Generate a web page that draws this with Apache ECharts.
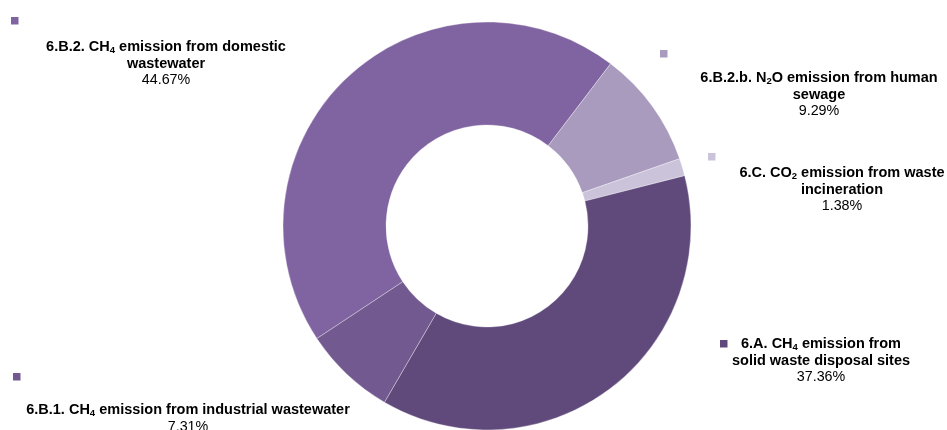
<!DOCTYPE html>
<html>
<head>
<meta charset="utf-8">
<script src="https://cdn.jsdelivr.net/npm/echarts@6/dist/echarts.min.js"></script>
<style>html,body{margin:0;padding:0;background:#fff}#c{width:947px;height:430px}</style>
</head>
<body>
<div id="c"></div>
<script>
// Category label lines (subscripts marked with _n)
const categories = [
  "6.B.2. CH_4 emission from domestic\nwastewater",
  "6.B.2.b. N_2O emission from human\nsewage",
  "6.C. CO_2 emission from waste\nincineration",
  "6.A. CH_4 emission from\nsolid waste disposal sites",
  "6.B.1. CH_4 emission from industrial wastewater"
];
const shares = [44.67, 9.29, 1.38, 37.36, 7.31];
const colors = ["#8064A2", "#A99BBD", "#CBC3DA", "#604A7B", "#72598F"];

// label anchor (centre x, top y) and marker positions
const labelPos = [[166, 39], [819, 70], [842, 165], [821, 336], [188, 402]];
const markerPos = [[11, 17], [660, 50], [708, 153], [720, 340], [13, 373]];

function richName(name) {
  return name.split("\n").map(line => {
    const parts = line.split(/_(\d)/);
    let s = "";
    parts.forEach((p, i) => {
      if (p === "") return;
      s += (i % 2 === 1) ? "{s|" + p + "}" : "{b|" + p + "}";
    });
    return s;
  }).join("\n");
}

const chart = echarts.init(document.getElementById("c"), null, {renderer: "canvas"});
const font = "'Liberation Sans', Arial, sans-serif";
chart.setOption({
  animation: false,
  color: colors,
  series: [{
    type: "pie",
    center: [487, 226],
    radius: [101, 204],
    startAngle: 213.5,
    clockwise: true,
    itemStyle: {borderColor: "rgba(255,255,255,0.55)", borderWidth: 0.6},
    labelLine: {show: false},
    label: {
      show: true,
      position: "outside",
      align: "center",
      overflow: "none",
      formatter: p => richName(p.name) + "\n{p|" + p.value.toFixed(2) + "%}",
      rich: {
        b: {fontFamily: font, fontSize: 14.5, fontWeight: "bold", color: "#000", lineHeight: 16.5},
        s: {fontFamily: font, fontSize: 9.5, fontWeight: "bold", color: "#000", lineHeight: 16.5, padding: [7, 0, 0, 0]},
        p: {fontFamily: font, fontSize: 14.3, color: "#000", lineHeight: 16.5}
      }
    },
    labelLayout: params => ({
      x: labelPos[params.dataIndex][0],
      y: labelPos[params.dataIndex][1],
      align: "center",
      verticalAlign: "top",
      hideOverlap: false,
      moveOverlap: null
    }),
    emphasis: {disabled: true},
    data: categories.map((c, i) => ({name: c, value: shares[i]}))
  }],
  graphic: markerPos.map((m, i) => ({
    type: "rect",
    shape: {x: m[0], y: m[1], width: 7.5, height: 7.5},
    style: {fill: colors[i]}
  }))
});
</script>
</body>
</html>
